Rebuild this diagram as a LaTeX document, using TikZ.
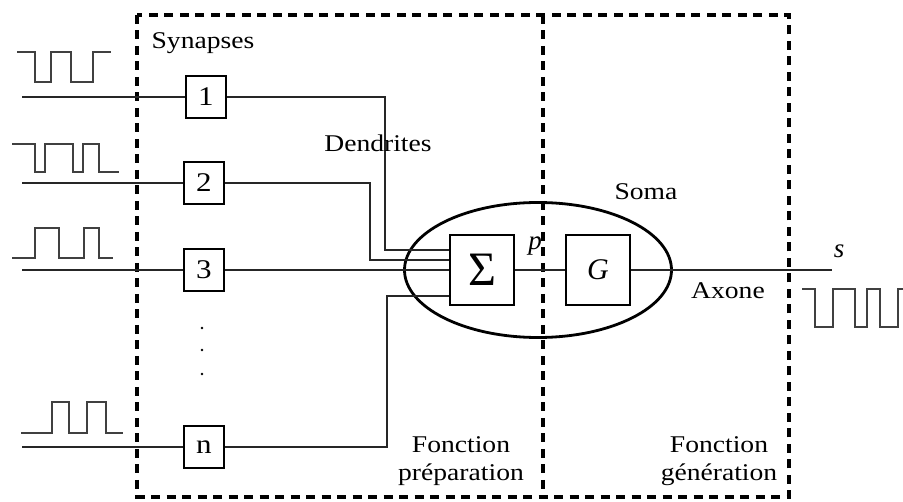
\documentclass[tikz,border=0pt]{standalone}
\usepackage{fontspec}
\setmainfont{Liberation Serif}
\newfontfamily\lbfont[FakeStretch=1.15]{Liberation Serif}
\usetikzlibrary{shapes.geometric}
\begin{document}
\begin{tikzpicture}[x=1pt,y=-1pt,
  frame/.style={line width=3.2pt,dash pattern=on 9pt off 6.5pt},
  synbox/.style={draw,line width=2.8pt,minimum width=40pt,minimum height=42pt,inner sep=0pt,font=\lbfont\fontsize{27}{27}\selectfont},
  opbox/.style={draw,line width=2.8pt,minimum width=64pt,minimum height=70pt,inner sep=0pt},
  wire/.style={line width=1.7pt,draw=black!85},
  sig/.style={line width=1.9pt,draw=black!75},
  lbl/.style={font=\lbfont\fontsize{24}{28}\selectfont,inner sep=0pt,align=center}
]
\useasboundingbox (0,0) rectangle (903,502);
\fill[white] (0,0) rectangle (903,502);

% frames
\draw[frame] (137,15) rectangle (789,497);
\draw[frame] (543,15) -- (543,497);

% soma
\node[draw,ellipse,line width=2.8pt,minimum width=267pt,minimum height=135pt] (soma) at (538,270) {};
\node[opbox,font=\fontsize{48}{48}\selectfont] (sum) at (482,270) {Σ};
\node[opbox,minimum height=70pt,font=\fontsize{30}{30}\selectfont\itshape] (g) at (598,270) {G};

% synapses
\node[synbox] (s1) at (206,97) {1};
\node[synbox] (s2) at (204,183) {2};
\node[synbox] (s3) at (204,270) {3};
\node[synbox] (sn) at (204,447) {n};

\coordinate (in1) at (22,97);
\coordinate (in2) at (22,183);
\coordinate (in3) at (22,270);
\coordinate (inn) at (22,447);
\draw[wire] (in1) -- (s1);
\draw[wire] (in2) -- (s2);
\draw[wire] (in3) -- (s3);
\draw[wire] (inn) -- (sn);

\coordinate (d1) at (385,250);
\coordinate (d2) at (370,260);
\coordinate (dn) at (387,296);
\draw[wire] (s1.east) -| (d1) -- (d1 -| sum.west);
\draw[wire] (s2.east) -| (d2) -- (d2 -| sum.west);
\draw[wire] (s3.east) -- (s3.east -| sum.west);
\draw[wire] (sn.east) -| (dn) -- (dn -| sum.west);

\draw[wire,line width=2.2pt] (sum) -- (g);
\coordinate (out) at (832,270);
\draw[wire,line width=2.8pt] (g) -- (out);

% dots
\foreach \yy in {328,350,374} \fill (202,\yy) circle (1.3pt);

% input signals
\draw[sig] (17,52)--(35,52)--(35,82)--(51,82)--(51,52)--(71,52)--(71,82)--(93,82)--(93,52)--(111,52);
\draw[sig] (12,144)--(35,144)--(35,172)--(45,172)--(45,144)--(73,144)--(73,172)--(83,172)--(83,144)--(99,144)--(99,172)--(119,172);
\draw[sig] (12,258)--(35,258)--(35,228)--(59,228)--(59,258)--(84,258)--(84,228)--(99,228)--(99,258)--(113,258);
\draw[sig] (21,433)--(52,433)--(52,402)--(69,402)--(69,433)--(87,433)--(87,402)--(106,402)--(106,433)--(123,433);
% output signal
\draw[sig] (802,289)--(815,289)--(815,327)--(833,327)--(833,289)--(855,289)--(855,327)--(867,327)--(867,289)--(880,289)--(880,327)--(898,327)--(898,289)--(905,289);

% labels
\node[lbl] (tsyn) at (203,43) {Synapses};
\node[lbl] (tden) at (378,143) {Dendrites};
\node[lbl] (tsoma) at (646,192) {Soma};
\node[lbl] (taxo) at (728,291) {Axone};
\node[lbl,font=\fontsize{27}{27}\selectfont\itshape] (tp) at (535,246) {p};
\node[lbl,font=\fontsize{27}{27}\selectfont\itshape] (ts) at (839,251) {s};
\node[lbl] (tprep) at (461,461) {Fonction\\préparation};
\node[lbl] (tgen) at (719,461) {Fonction\\génération};
\end{tikzpicture}
\end{document}
